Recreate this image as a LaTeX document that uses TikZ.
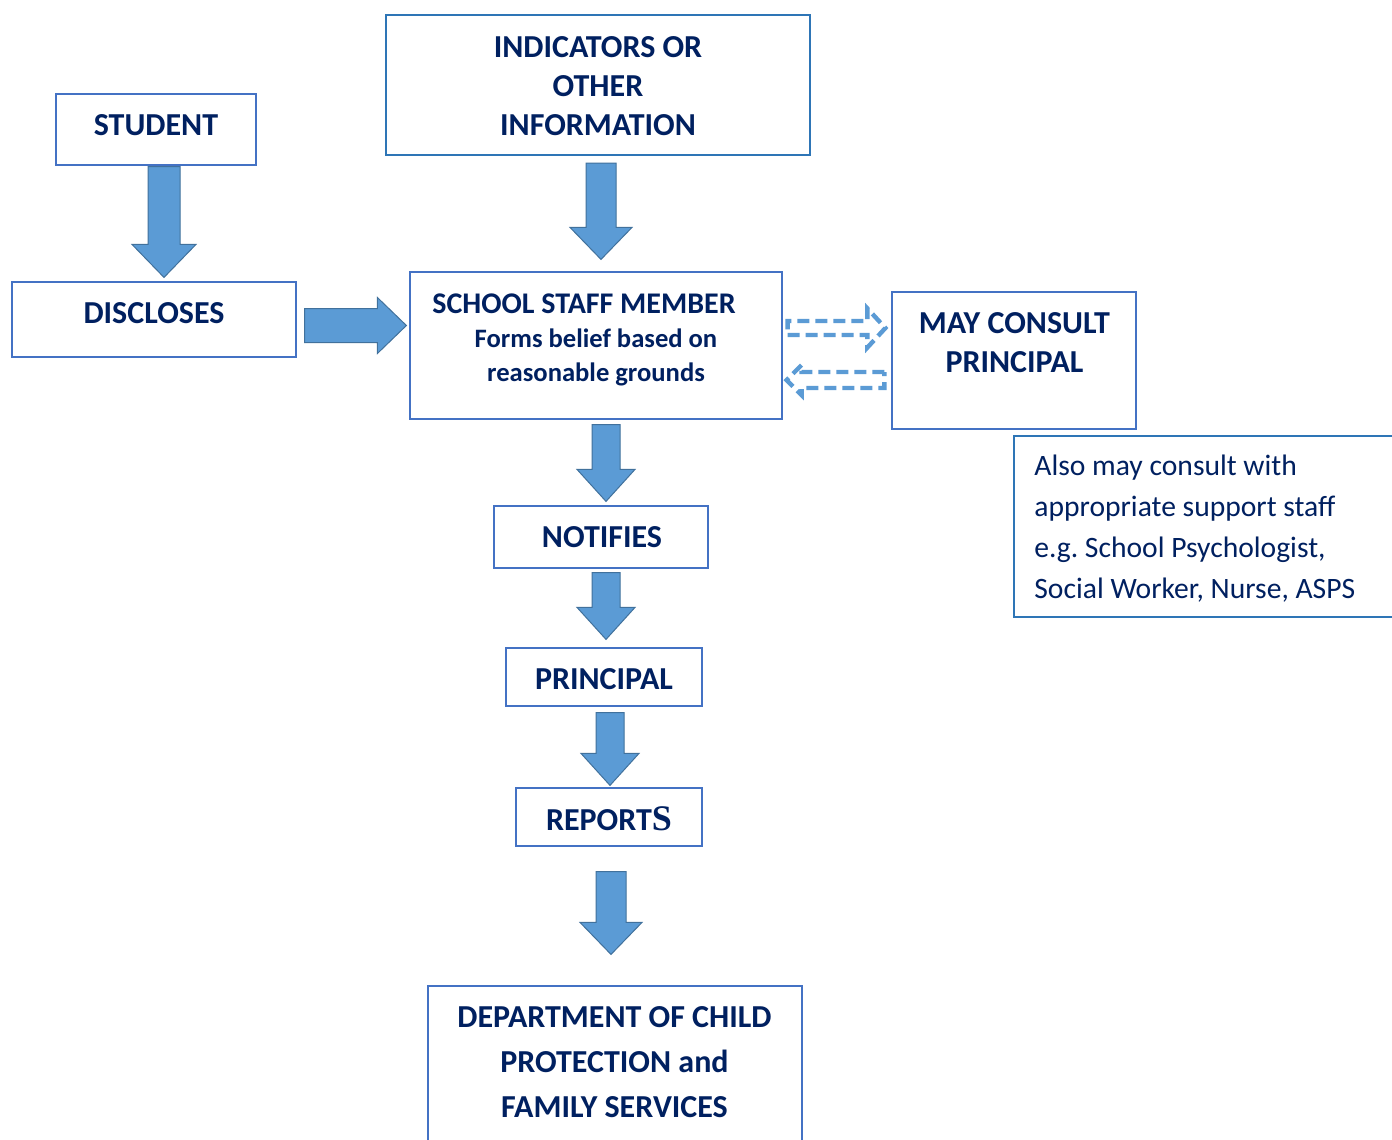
\documentclass[tikz,border=0pt]{standalone}
\usepackage{fontspec}
\setmainfont{Carlito}
\newfontfamily\serifS{Liberation Serif}
\usetikzlibrary{calc}

\definecolor{navy}{HTML}{002060}
\definecolor{boxblue}{HTML}{4472C4}
\definecolor{darkframe}{HTML}{2E75B6}
\definecolor{arrowfill}{HTML}{5B9BD5}
\definecolor{arrowedge}{HTML}{41719C}

\tikzset{
  half shaft/.store in=\halfshaft, half shaft=7.5pt,
  half head/.store in=\halfhead, half head=15.5pt,
  head len/.store in=\headlen, head len=16pt
}

% block arrow from #2 to #3
\newcommand\blockarrow[3][]{%
  \draw[#1] let \p1=#2, \p2=#3,
    \n1={veclen(\x2-\x1,\y2-\y1)}, \n2={atan2(\y2-\y1,\x2-\x1)} in
    [shift={(\p1)}, rotate=\n2]
    (0pt,-\halfshaft) -- ({\n1*1pt-\headlen},-\halfshaft) -- ({\n1*1pt-\headlen},-\halfhead)
    -- ({\n1*1pt},0pt) -- ({\n1*1pt-\headlen},\halfhead) -- ({\n1*1pt-\headlen},\halfshaft)
    -- (0pt,\halfshaft) -- cycle;}

\begin{document}
\begin{tikzpicture}[x=0.5pt, y=-0.5pt,
  frame/.style={draw=boxblue, line width=0.6pt, inner sep=0pt},
  bigtext/.style={text=navy, font=\fontsize{16}{19.5}\selectfont\bfseries, align=center, inner sep=0pt},
  fat/.style={fill=arrowfill, draw=arrowedge, line width=0.5pt},
  dashedarrow/.style={draw=arrowfill, line width=2.2pt, dash pattern=on 6pt off 3pt}]
\clip (0,0) rectangle (1392,1140);
\fill[white] (0,0) rectangle (1392,1140);

% boxes
\node[frame, minimum width=100pt, minimum height=35.5pt] (student) at (156,129.5) {};
\node[bigtext] (student text) at (156,125) {STUDENT};

\node[frame, draw=darkframe, line width=1.1pt, minimum width=212pt, minimum height=70pt] (ind) at (598,85) {};
\node[bigtext] (ind text) at (598,86) {INDICATORS OR\\OTHER\\INFORMATION};

\node[frame, minimum width=142pt, minimum height=37.5pt] (disc) at (154,319.5) {};
\node[bigtext] (disc text) at (154,313) {DISCLOSES};

\node[frame, minimum width=186pt, minimum height=73.5pt] (staff) at (596,345.5) {};
\node[bigtext, font=\fontsize{15}{17}\selectfont\bfseries] (staff text) at (596,340)
  {SCHOOL STAFF MEMBER\hspace*{12pt}\\\fontsize{13.3}{16.5}\selectfont Forms belief based on\\\fontsize{13.3}{16.5}\selectfont reasonable grounds};

\node[frame, minimum width=122pt, minimum height=68.5pt] (consult) at (1014,360.5) {};
\node[bigtext] (consult text) at (1014.5,342.5) {MAY CONSULT\\PRINCIPAL};

\node[frame, draw=darkframe, minimum width=193pt, minimum height=90.5pt] (also) at (1207,526.5) {};
\node[text=navy, font=\fontsize{14.8}{20.5}\selectfont, align=left, inner sep=0pt, anchor=west] (also text) at (1034,529)
  {Also may consult with\\appropriate support staff\\e.g.\ School Psychologist,\\Social Worker, Nurse, ASPS};

\node[frame, minimum width=107pt, minimum height=31pt] (notif) at (601,537) {};
\node[bigtext] (notif text) at (602,537) {NOTIFIES};

\node[frame, minimum width=98pt, minimum height=29pt] (princ) at (604,677) {};
\node[bigtext] (princ text) at (604,679) {PRINCIPAL};

\node[frame, minimum width=93pt, minimum height=29pt] (rep) at (609,817) {};
\node[bigtext] (rep text) at (609,819) {REPORT{\serifS\fontsize{18}{18}\selectfont S}};

\node[frame, minimum width=187pt, minimum height=87pt] (dept) at (615,1073) {};
\node[bigtext, font=\fontsize{16}{22.5}\selectfont\bfseries] (dept text) at (614.5,1062)
  {DEPARTMENT OF CHILD\\PROTECTION and\\FAMILY SERVICES};

% arrows
\blockarrow[fat, half shaft=8pt, half head=16pt, head len=16.5pt]{([xshift=4pt,yshift=-0.5pt]student.south)}{([xshift=5pt,yshift=2pt]disc.north)}
\blockarrow[fat]{([xshift=1.5pt,yshift=-3.5pt]ind.south)}{([xshift=2.5pt,yshift=6pt]staff.north)}
\blockarrow[fat, half shaft=8.5pt, half head=14pt, head len=14.5pt]{([xshift=4pt,yshift=-3pt]disc.east)}{([xshift=-1.5pt,yshift=10pt]staff.west)}
\blockarrow[fat, half shaft=7pt, half head=14.5pt]{([xshift=5pt,yshift=-2.5pt]staff.south)}{([xshift=2.5pt,yshift=2pt]notif.north)}
\blockarrow[fat, half shaft=7pt, half head=14.5pt]{([xshift=2.5pt,yshift=-2pt]notif.south)}{([xshift=1pt,yshift=4pt]princ.north)}
\blockarrow[fat, half shaft=7pt, half head=14.5pt]{([xshift=3pt,yshift=-3pt]princ.south)}{([xshift=0.5pt,yshift=1pt]rep.north)}
\blockarrow[fat]{([xshift=1pt,yshift=-12.5pt]rep.south)}{([xshift=-2pt,yshift=15.5pt]dept.north)}

% dashed two-way arrows
\blockarrow[dashedarrow, half shaft=3.5pt, half head=9.75pt, head len=9pt]{([xshift=2.5pt,yshift=8.75pt]staff.east)}{([xshift=-3pt,yshift=16.25pt]consult.west)}
\blockarrow[dashedarrow, half shaft=4pt, half head=7.5pt, head len=7.5pt]{([xshift=-3.5pt,yshift=-9.75pt]consult.west)}{([xshift=2pt,yshift=-17.25pt]staff.east)}
\end{tikzpicture}
\end{document}
